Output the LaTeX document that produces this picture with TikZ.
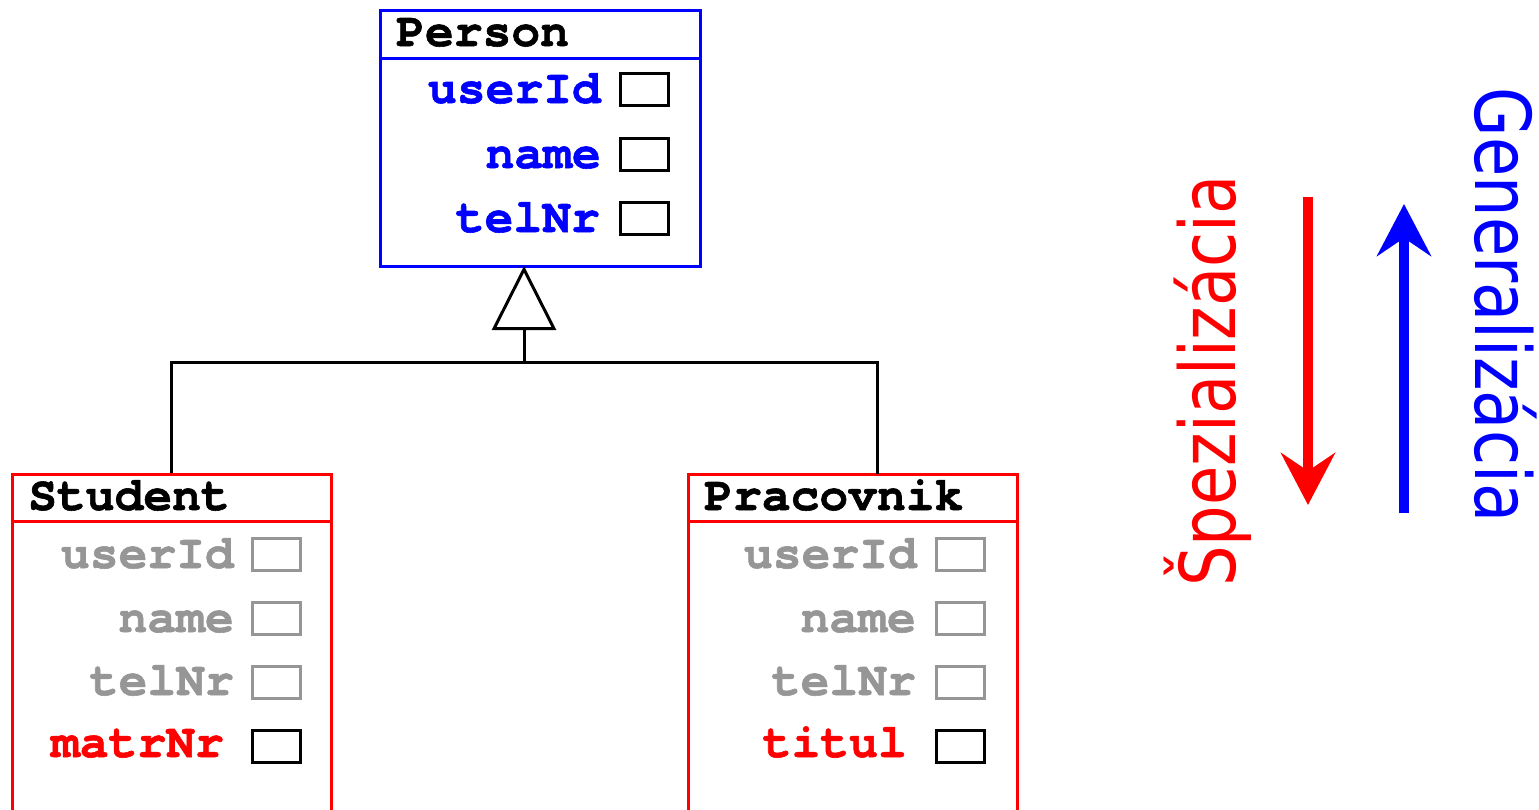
\documentclass[tikz,border=0pt]{standalone}
\usepackage{fontspec}
\setmainfont{DejaVu Sans}
\newfontfamily\monofnt{TeX Gyre Cursor}[BoldFeatures={FakeBold=1.2}]
\newfontfamily\narrowfnt{DejaVu Sans}[FakeStretch=0.83]
\usetikzlibrary{arrows.meta}
\definecolor{attrgrey}{RGB}{150,150,150}
\tikzset{
  classbox/.style={draw, line width=3pt, inner sep=0pt},
  slotbox/.style={draw, line width=3pt, minimum width=48pt, minimum height=32pt, inner sep=0pt},
  greyslot/.style={slotbox, draw=attrgrey},
  attr/.style={font=\monofnt\bfseries\fontsize{48}{48}\selectfont, inner sep=0pt, anchor=base east},
  title/.style={font=\monofnt\bfseries\fontsize{48}{48}\selectfont, inner sep=0pt, anchor=base west},
  bigtxt/.style={font=\narrowfnt\fontsize{77}{77}\selectfont, inner sep=0pt, anchor=base},
  link/.style={draw=black, line width=3pt},
}
\begin{document}
\begin{tikzpicture}[x=1pt,y=-1pt]
\clip (0,0) rectangle (1539,809);
\fill[white] (0,0) rectangle (1539,809);

% Person
\node[classbox, draw=blue, minimum width=320pt, minimum height=256pt] (person) at (540,138) {};
\draw[blue, line width=3pt] (person.west |- 0,58) -- (person.east |- 0,58);
\node[title] (ptitle) at (396,46) {Person};
\node[attr, text=blue] (p1) at (601,103) {userId};
\node[attr, text=blue] (p2) at (601,168) {name};
\node[attr, text=blue] (p3) at (600,232) {telNr};
\node[slotbox] (ps1) at (644,89) {};
\node[slotbox] (ps2) at (644,154) {};
\node[slotbox] (ps3) at (644,218) {};

% Student
\node[classbox, draw=red, minimum width=319pt, minimum height=356pt] (stud) at (171.5,652) {};
\draw[red, line width=3pt] (stud.west |- 0,521) -- (stud.east |- 0,521);
\node[title] (stitle) at (28,510) {Student};
\node[attr, text=attrgrey] (s1) at (234,568) {userId};
\node[attr, text=attrgrey] (s2) at (234,632) {name};
\node[attr, text=attrgrey] (s3) at (234,695) {telNr};
\node[attr, text=red] (s4) at (224,757) {matrNr};
\node[greyslot] (ss1) at (276,554) {};
\node[greyslot] (ss2) at (276,618) {};
\node[greyslot] (ss3) at (276,682) {};
\node[slotbox] (ss4) at (276,746) {};

% Pracovnik
\node[classbox, draw=red, minimum width=329pt, minimum height=356pt] (prac) at (852.5,652) {};
\draw[red, line width=3pt] (prac.west |- 0,521) -- (prac.east |- 0,521);
\node[title] (rtitle) at (704,510) {Pracovnik};
\node[attr, text=attrgrey] (r1) at (917,568) {userId};
\node[attr, text=attrgrey] (r2) at (916,632) {name};
\node[attr, text=attrgrey] (r3) at (916,695) {telNr};
\node[attr, text=red] (r4) at (907,757) {titul};
\node[greyslot] (rs1) at (960,554) {};
\node[greyslot] (rs2) at (960,618) {};
\node[greyslot] (rs3) at (960,682) {};
\node[slotbox] (rs4) at (960,746) {};

% generalization connectors
\coordinate (apex) at (524,266);
\coordinate (hub) at (524,362);
\coordinate (pj) at (877,474);
\draw[link, -{Triangle[open, length=64pt, width=64pt]}] (hub) -- (apex);
\draw[link] (stud.north) |- (hub) -| (pj);

% direction arrows
\coordinate (ra) at (1308,197);
\coordinate (rb) at (1308,505);
\coordinate (ba) at (1404,513);
\coordinate (bb) at (1404,204);
\draw[red, line width=10pt, -{Stealth[length=52pt, width=54pt, inset=18pt]}] (ra) -- (rb);
\draw[blue, line width=10pt, -{Stealth[length=52pt, width=54pt, inset=18pt]}] (ba) -- (bb);

\node[bigtxt, text=red, rotate=90] (spec) at (1235,381) {Špezializácia};
\node[bigtxt, text=blue, rotate=-90] (gen) at (1475,305) {Generalizácia};
\end{tikzpicture}
\end{document}
